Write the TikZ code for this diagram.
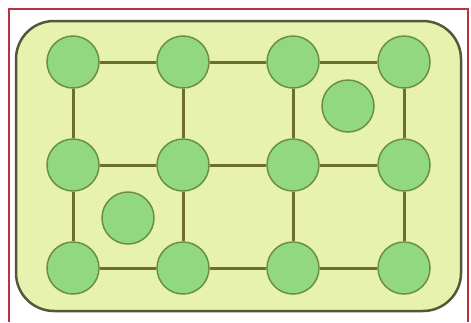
\documentclass[tikz,border=0pt]{standalone}
\definecolor{boardfill}{HTML}{E6F2AE}
\definecolor{boardline}{HTML}{4E5A3A}
\definecolor{dotfill}{HTML}{92D882}
\definecolor{dotline}{HTML}{6A8F40}
\definecolor{linkcol}{HTML}{6E6E2E}
\definecolor{framecol}{HTML}{C0303A}
\begin{document}
\begin{tikzpicture}[x=1pt, y=-1pt,
  dot/.style={circle, draw=dotline, fill=dotfill, line width=1.5pt, minimum size=52pt, inner sep=0pt},
  link/.style={draw=linkcol, line width=3pt}]
  \useasboundingbox (0,0) rectangle (471,322);
  \draw[framecol, line width=1.5pt] (9,322) -- (9,9) -- (468,9) -- (468,322);
  \draw[boardline, fill=boardfill, line width=2.5pt, rounded corners=38pt] (16,21) rectangle (461,311);
  % grid of dots
  \foreach \c/\x in {1/73,2/183,3/293,4/404}
    \foreach \r/\y in {1/62,2/165,3/268}
      \node[dot] (n\r\c) at (\x,\y) {};
  \foreach \r in {1,2,3}
    \foreach \c/\d in {1/2,2/3,3/4}
      \draw[link] (n\r\c) -- (n\r\d);
  \foreach \c in {1,2,3,4}
    \foreach \r/\s in {1/2,2/3}
      \draw[link] (n\r\c) -- (n\s\c);
  % loose dots
  \node[dot] (x1) at (348,106) {};
  \node[dot] (x2) at (128,218) {};
\end{tikzpicture}
\end{document}
